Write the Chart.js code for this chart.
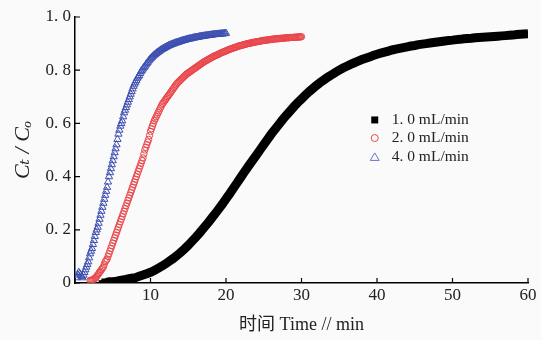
<!DOCTYPE html>
<html>
<head>
<meta charset="utf-8">
<script src="https://cdn.jsdelivr.net/npm/chart.js@4"></script>
<style>
  body { margin: 0; background: #fafafa; }
  #wrap { width: 541px; height: 340px; }
</style>
</head>
<body>
<div id="wrap"><canvas id="chart" width="541" height="340"></canvas></div>
<script>
// series labels
const seriesLabels = ['1. 0 mL/min', '2. 0 mL/min', '4. 0 mL/min'];

// sampling (min)
const blackStart = 3.5, blackStep = 0.5;
const redStart = 2.0, redStep = 0.125;
const blueStart = 0.25, blueStep = 0.125;

// Ct/C0
const blackVals = [
  0.0, 0.0, 0.005, 0.005, 0.007, 0.01, 0.012, 0.015, 0.018, 0.02,
  0.025, 0.03, 0.035, 0.04, 0.047, 0.055, 0.063, 0.072, 0.082, 0.092,
  0.103, 0.115, 0.128, 0.142, 0.157, 0.172, 0.188, 0.205, 0.222, 0.24,
  0.258, 0.277, 0.296, 0.316, 0.336, 0.357, 0.378, 0.399, 0.42, 0.44,
  0.46, 0.48, 0.50, 0.52, 0.54, 0.56, 0.578, 0.596, 0.614, 0.631,
  0.647, 0.663, 0.678, 0.692, 0.706, 0.719, 0.731, 0.743, 0.754, 0.764,
  0.774, 0.783, 0.792, 0.80, 0.808, 0.815, 0.822, 0.828, 0.834, 0.84,
  0.845, 0.85, 0.855, 0.86, 0.864, 0.868, 0.872, 0.876, 0.879, 0.882,
  0.885, 0.888, 0.891, 0.893, 0.896, 0.898, 0.90, 0.902, 0.904, 0.906,
  0.908, 0.91, 0.912, 0.913, 0.915, 0.916, 0.918, 0.919, 0.92, 0.922,
  0.923, 0.924, 0.925, 0.926, 0.927, 0.928, 0.929, 0.93, 0.931, 0.932,
  0.934, 0.935, 0.936, 0.937
];
// one row per minute, from 2 min
const redVals = [
  0.01, 0.01, 0.01, 0.012, 0.015, 0.017, 0.02, 0.025,
  0.03, 0.035, 0.04, 0.045, 0.05, 0.055, 0.06, 0.07,
  0.08, 0.085, 0.09, 0.10, 0.11, 0.12, 0.13, 0.14,
  0.15, 0.16, 0.17, 0.18, 0.19, 0.20, 0.21, 0.22,
  0.23, 0.24, 0.25, 0.26, 0.27, 0.28, 0.29, 0.30,
  0.31, 0.32, 0.33, 0.34, 0.35, 0.36, 0.37, 0.38,
  0.39, 0.40, 0.41, 0.42, 0.43, 0.44, 0.45, 0.46,
  0.47, 0.485, 0.50, 0.51, 0.52, 0.53, 0.54, 0.555,
  0.57, 0.58, 0.59, 0.60, 0.61, 0.617, 0.625, 0.632,
  0.64, 0.647, 0.655, 0.662, 0.67, 0.675, 0.68, 0.685,
  0.69, 0.695, 0.70, 0.705, 0.71, 0.715, 0.72, 0.725,
  0.73, 0.735, 0.74, 0.745, 0.75, 0.753, 0.757, 0.76,
  0.764, 0.767, 0.771, 0.774, 0.778, 0.781, 0.785, 0.787,
  0.79, 0.792, 0.795, 0.797, 0.80, 0.802, 0.805, 0.807,
  0.81, 0.812, 0.815, 0.817, 0.82, 0.822, 0.825, 0.827,
  0.83, 0.832, 0.834, 0.836, 0.838, 0.84, 0.842, 0.844,
  0.846, 0.848, 0.85, 0.852, 0.854, 0.855, 0.857, 0.858,
  0.86, 0.862, 0.864, 0.865, 0.867, 0.868, 0.87, 0.871,
  0.873, 0.874, 0.876, 0.877, 0.879, 0.88, 0.881, 0.882,
  0.884, 0.885, 0.886, 0.887, 0.889, 0.89, 0.891, 0.892,
  0.893, 0.894, 0.895, 0.896, 0.897, 0.898, 0.899, 0.90,
  0.901, 0.901, 0.902, 0.903, 0.904, 0.904, 0.905, 0.906,
  0.907, 0.907, 0.908, 0.908, 0.909, 0.91, 0.911, 0.911,
  0.912, 0.912, 0.913, 0.913, 0.914, 0.914, 0.915, 0.915,
  0.916, 0.916, 0.917, 0.917, 0.918, 0.918, 0.918, 0.918,
  0.919, 0.919, 0.92, 0.92, 0.92, 0.92, 0.921, 0.921,
  0.922, 0.922, 0.922, 0.922, 0.923, 0.923, 0.923, 0.923,
  0.924, 0.924, 0.924, 0.924, 0.925, 0.925, 0.925, 0.925,
  0.926
];
// first row from 0.25 min, then one row per minute
const blueVals = [
  0.02, 0.03, 0.04, 0.035, 0.03, 0.025,
  0.02, 0.03, 0.04, 0.05, 0.06, 0.07, 0.08, 0.095,
  0.11, 0.12, 0.13, 0.145, 0.16, 0.175, 0.19, 0.20,
  0.21, 0.225, 0.24, 0.255, 0.27, 0.285, 0.30, 0.315,
  0.33, 0.345, 0.36, 0.38, 0.40, 0.415, 0.43, 0.445,
  0.46, 0.475, 0.49, 0.505, 0.52, 0.54, 0.56, 0.575,
  0.59, 0.60, 0.61, 0.625, 0.64, 0.65, 0.66, 0.67,
  0.68, 0.69, 0.70, 0.71, 0.72, 0.73, 0.74, 0.748,
  0.755, 0.762, 0.77, 0.775, 0.78, 0.788, 0.795, 0.80,
  0.805, 0.81, 0.815, 0.82, 0.825, 0.83, 0.835, 0.839,
  0.843, 0.847, 0.85, 0.854, 0.857, 0.86, 0.863, 0.866,
  0.868, 0.871, 0.873, 0.876, 0.878, 0.88, 0.882, 0.884,
  0.886, 0.888, 0.89, 0.892, 0.893, 0.895, 0.896, 0.898,
  0.899, 0.90, 0.902, 0.903, 0.904, 0.905, 0.906, 0.908,
  0.909, 0.91, 0.911, 0.912, 0.913, 0.914, 0.915, 0.916,
  0.917, 0.918, 0.918, 0.919, 0.92, 0.921, 0.922, 0.922,
  0.923, 0.924, 0.924, 0.925, 0.926, 0.926, 0.927, 0.928,
  0.928, 0.929, 0.929, 0.93, 0.93, 0.931, 0.931, 0.932,
  0.932, 0.933, 0.933, 0.934, 0.934, 0.935, 0.935, 0.935,
  0.936, 0.936, 0.936, 0.937, 0.937, 0.937, 0.938, 0.938,
  0.939
];

// axis ticks
const xTicks = [0, 10, 20, 30, 40, 50, 60];
const yTicks = [0, 0.2, 0.4, 0.6, 0.8, 1.0];
const yTickLabels = ['0', '0. 2', '0. 4', '0. 6', '0. 8', '1. 0'];

const toPoints = (start, step, vals) => vals.map((v, i) => ({ x: start + i * step, y: v }));

const serif = "'Liberation Serif', 'DejaVu Serif', 'Noto Sans CJK SC', serif";

// inward tick marks
const innerTicks = {
  id: 'innerTicks',
  afterDatasetsDraw(chart) {
    const { ctx, chartArea, scales: { x, y } } = chart;
    ctx.save();
    ctx.strokeStyle = '#000';
    ctx.lineWidth = 1.2;
    ctx.beginPath();
    xTicks.forEach(t => {
      const px = x.getPixelForValue(t);
      ctx.moveTo(px, chartArea.bottom);
      ctx.lineTo(px, chartArea.bottom - 5);
    });
    yTicks.forEach(t => {
      const py = y.getPixelForValue(t);
      ctx.moveTo(chartArea.left, py);
      ctx.lineTo(chartArea.left + 5, py);
    });
    ctx.stroke();
    ctx.restore();
  }
};

// legend inside the plot
const legendX = 39.7;
const legendY = [0.613, 0.545, 0.474];
const insideLegend = {
  id: 'insideLegend',
  afterDatasetsDraw(chart) {
    const { ctx, scales: { x, y } } = chart;
    const px = x.getPixelForValue(legendX);
    ctx.save();
    chart.data.datasets.forEach((ds, i) => {
      const py = y.getPixelForValue(legendY[i]);
      ctx.lineWidth = 1;
      if (i === 0) {
        ctx.fillStyle = '#000';
        ctx.fillRect(px - 3.5, py - 3.5, 7, 7);
      } else if (i === 1) {
        ctx.strokeStyle = '#e8464a';
        ctx.beginPath();
        ctx.arc(px, py, 3.5, 0, Math.PI * 2);
        ctx.stroke();
      } else {
        ctx.strokeStyle = '#6a74c4';
        ctx.beginPath();
        ctx.moveTo(px, py - 4);
        ctx.lineTo(px + 4.5, py + 3.5);
        ctx.lineTo(px - 4.5, py + 3.5);
        ctx.closePath();
        ctx.stroke();
      }
      ctx.fillStyle = '#222';
      ctx.font = '15.5px ' + serif;
      ctx.textBaseline = 'middle';
      ctx.textAlign = 'left';
      ctx.fillText(ds.label, px + 17, py);
    });
    ctx.restore();
  }
};

new Chart(document.getElementById('chart'), {
  type: 'scatter',
  data: {
    datasets: [
      {
        label: seriesLabels[0],
        data: toPoints(blackStart, blackStep, blackVals),
        showLine: true,
        borderColor: '#000',
        borderWidth: 9,
        backgroundColor: '#000',
        pointStyle: 'rect',
        pointRadius: 4,
        pointBorderWidth: 0
      },
      {
        label: seriesLabels[1],
        data: toPoints(redStart, redStep, redVals),
        borderColor: '#e8464a',
        backgroundColor: 'rgba(0,0,0,0)',
        pointStyle: 'circle',
        pointRadius: 3.2,
        pointBorderWidth: 1
      },
      {
        label: seriesLabels[2],
        data: toPoints(blueStart, blueStep, blueVals),
        borderColor: '#3d4fb0',
        backgroundColor: 'rgba(0,0,0,0)',
        pointStyle: 'triangle',
        pointRadius: 4.2,
        pointBorderWidth: 1
      }
    ]
  },
  options: {
    responsive: false,
    animation: false,
    layout: { padding: { left: 0, right: 13, top: 17, bottom: 0 } },
    plugins: {
      legend: { display: false },
      tooltip: { enabled: false }
    },
    scales: {
      x: {
        type: 'linear',
        min: 0,
        max: 60,
        afterBuildTicks: axis => { axis.ticks = xTicks.map(v => ({ value: v })); },
        ticks: {
          color: '#222',
          font: { family: serif, size: 17 },
          padding: 2,
          callback: v => (v === 0 ? '' : String(v))
        },
        grid: { display: true, drawOnChartArea: false, drawTicks: false },
        border: { color: '#000', width: 1.5 },
        title: {
          display: true,
          text: '时间 Time // min',
          color: '#222',
          font: { family: serif, size: 18 },
          padding: { top: 0, bottom: 4 }
        },
        afterFit: axis => { axis.height = 57; }
      },
      y: {
        min: 0,
        max: 1,
        afterBuildTicks: axis => { axis.ticks = yTicks.map(v => ({ value: v })); },
        ticks: {
          color: '#222',
          font: { family: serif, size: 17 },
          padding: 4,
          callback: (v, i) => yTickLabels[i]
        },
        grid: { display: true, drawOnChartArea: false, drawTicks: false },
        border: { color: '#000', width: 1.5 },
        title: {
          display: true,
          text: 'Cₜ / Cₒ',
          color: '#222',
          font: { family: serif, size: 22, style: 'italic' },
          padding: { top: 10, bottom: 0 }
        },
        afterFit: axis => { axis.width = 75; }
      }
    }
  },
  plugins: [innerTicks, insideLegend]
});
</script>
</body>
</html>
